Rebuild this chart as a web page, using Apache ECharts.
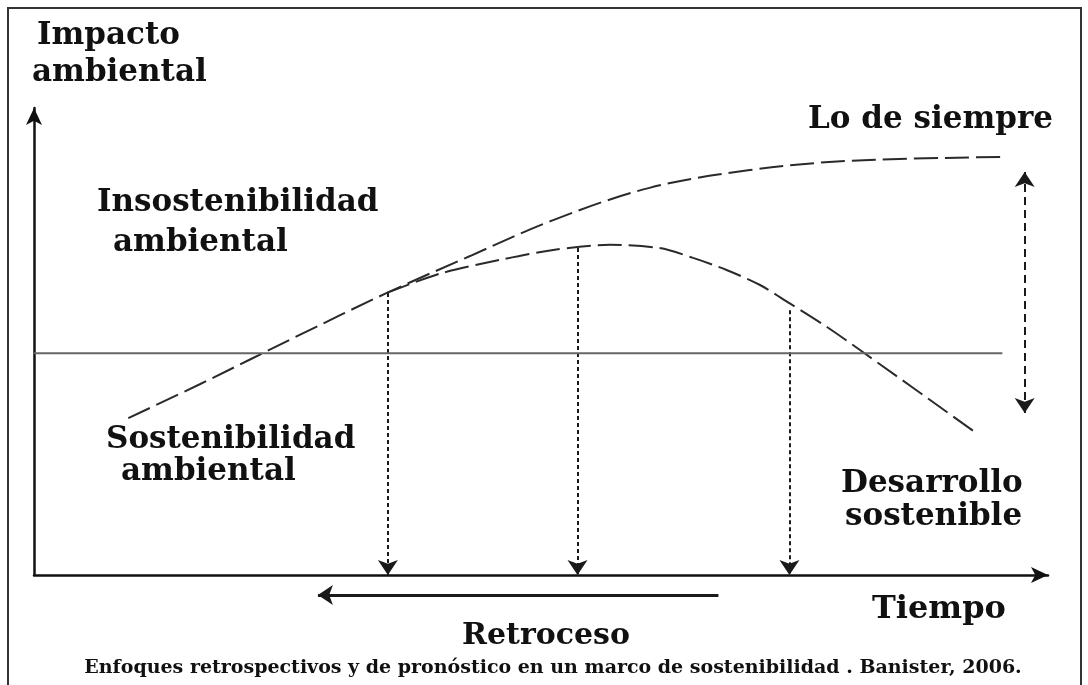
<!DOCTYPE html>
<html>
<head>
<meta charset="utf-8">
<script src="https://cdn.jsdelivr.net/npm/echarts@6/dist/echarts.min.js"></script>
<style>
html,body{margin:0;padding:0;background:#fff}
#main{width:1088px;height:685px}
</style>
</head>
<body>
<div id="main"></div>
<script>
// curva "Lo de siempre" (tiempo, impacto)
var siempreX = [9.3, 16.4, 26.2, 34.8, 43.0, 51.2, 60.7, 70.6, 80.5, 95.5];
var siempreY = [33.6, 40.9, 51.4, 60.4, 68.3, 76.0, 82.9, 86.7, 88.7, 89.5];
// curva "Desarrollo sostenible"
var sostenibleX = [34.8, 40.0, 46.0, 51.2, 56.8, 61.7, 65.0, 68.3, 71.6, 74.5, 78.2, 81.7, 92.8];
var sostenibleY = [60.4, 64.5, 67.5, 69.6, 70.7, 70.0, 67.9, 65.3, 62.1, 58.2, 53.1, 47.8, 30.6];
// umbral de sostenibilidad
var umbral = 47.5;
var umbralFin = 95.5;
// flechas verticales hacia el eje del tiempo
var cortesX = [34.9, 53.6, 74.5];
var cortesY = [60.4, 70.0, 56.7];
// flecha doble entre escenarios
var brechaX = 97.7;
var brechaY = [86.3, 34.7];
// flecha "Retroceso"
var retrocesoX = [67.5, 28.0];
var retrocesoY = -4.3;

function pares(xs, ys) {
	var out = [];
	for (var i = 0; i < xs.length; i++) out.push([xs[i], ys[i]]);
	return out;
}

var myChart = echarts.init(document.getElementById('main'));

var dash = {type: [24, 7], width: 2, color: '#2a2a2a'};
var dots = {type: [4, 3], width: 2, color: '#1a1a1a', opacity: 1};
var font = 'bold 31px "DejaVu Serif"';

var flechas = cortesX.map(function (x, i) {
	return {coords: [[x, cortesY[i]], [x, 0]]};
});

var option = {
	animation: false,
	backgroundColor: '#fff',
	grid: {left: 34, top: 108, width: 1014, height: 467, containLabel: false, outerBoundsMode: 'none'},
	xAxis: {
		type: 'value', min: 0, max: 100,
		axisLine: {show: true, onZero: false, symbol: ['none', 'arrow'], symbolSize: [12, 17],
			lineStyle: {color: '#111', width: 2.5}},
		axisTick: {show: false}, axisLabel: {show: false}, splitLine: {show: false}
	},
	yAxis: {
		type: 'value', min: 0, max: 100,
		axisLine: {show: true, onZero: false, symbol: ['none', 'arrow'], symbolSize: [12, 17],
			lineStyle: {color: '#111', width: 2.5}},
		axisTick: {show: false}, axisLabel: {show: false}, splitLine: {show: false}
	},
	series: [
		{
			name: 'Lo de siempre', type: 'line', smooth: 0.35, showSymbol: false,
			data: pares(siempreX, siempreY), lineStyle: dash
		},
		{
			name: 'Desarrollo sostenible', type: 'line', smooth: 0.3, showSymbol: false,
			data: pares(sostenibleX, sostenibleY), lineStyle: dash
		},
		{
			name: 'Umbral', type: 'line', showSymbol: false,
			data: [[0, umbral], [umbralFin, umbral]],
			lineStyle: {type: 'solid', width: 2, color: '#666'}
		},
		{
			name: 'Cortes', type: 'lines', coordinateSystem: 'cartesian2d',
			symbol: ['none', 'arrow'], symbolSize: 15,
			lineStyle: dots, data: flechas
		},
		{
			name: 'Brecha', type: 'lines', coordinateSystem: 'cartesian2d',
			symbol: ['arrow', 'arrow'], symbolSize: 15,
			lineStyle: {type: [8, 5], width: 2, color: '#1a1a1a', opacity: 1},
			data: [{coords: [[brechaX, brechaY[1]], [brechaX, brechaY[0]]]}]
		},
		{
			name: 'Retroceso', type: 'lines', coordinateSystem: 'cartesian2d', clip: false,
			symbol: ['none', 'arrow'], symbolSize: 15,
			lineStyle: {type: 'solid', width: 3, color: '#1a1a1a', opacity: 1},
			data: [{coords: [[retrocesoX[0], retrocesoY], [retrocesoX[1], retrocesoY]]}]
		}
	],
	graphic: [
		{type: 'rect', shape: {x: 8, y: 8, width: 1073, height: 700}, style: {fill: 'none', stroke: '#333', lineWidth: 2}, silent: true},
		{type: 'text', x: 37, y: 36, style: {text: 'Impacto', font: font, fill: '#111', textVerticalAlign: 'middle'}},
		{type: 'text', x: 32, y: 73, style: {text: 'ambiental', font: font, fill: '#111', textVerticalAlign: 'middle'}},
		{type: 'text', x: 808, y: 120, style: {text: 'Lo de siempre', font: font, fill: '#111', textVerticalAlign: 'middle'}},
		{type: 'text', x: 97, y: 203, style: {text: 'Insostenibilidad', font: font, fill: '#111', textVerticalAlign: 'middle'}},
		{type: 'text', x: 113, y: 243, style: {text: 'ambiental', font: font, fill: '#111', textVerticalAlign: 'middle'}},
		{type: 'text', x: 106, y: 440, style: {text: 'Sostenibilidad', font: font, fill: '#111', textVerticalAlign: 'middle'}},
		{type: 'text', x: 121, y: 472, style: {text: 'ambiental', font: font, fill: '#111', textVerticalAlign: 'middle'}},
		{type: 'text', x: 841, y: 484, style: {text: 'Desarrollo', font: font, fill: '#111', textVerticalAlign: 'middle'}},
		{type: 'text', x: 845, y: 517, style: {text: 'sostenible', font: font, fill: '#111', textVerticalAlign: 'middle'}},
		{type: 'text', x: 872, y: 610, style: {text: 'Tiempo', font: 'bold 32px "DejaVu Serif"', fill: '#111', textVerticalAlign: 'middle'}},
		{type: 'text', x: 546, y: 636, style: {text: 'Retroceso', font: 'bold 30px "DejaVu Serif"', fill: '#111', textAlign: 'center', textVerticalAlign: 'middle'}},
		{type: 'text', x: 553, y: 668, style: {text: 'Enfoques retrospectivos y de pronóstico en un marco de sostenibilidad . Banister, 2006.', font: 'bold 19px "DejaVu Serif"', fill: '#111', textAlign: 'center', textVerticalAlign: 'middle'}}
	]
};

myChart.setOption(option);
</script>
</body>
</html>
